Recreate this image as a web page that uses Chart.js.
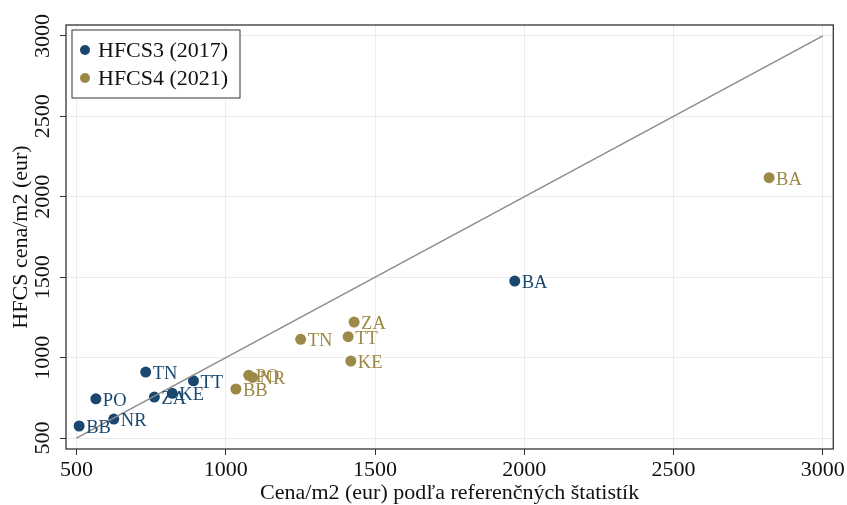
<!DOCTYPE html>
<html>
<head>
<meta charset="utf-8">
<script src="https://cdn.jsdelivr.net/npm/chart.js@4.4.1/dist/chart.umd.min.js"></script>
<style>
  body { margin: 0; background: #fff; }
  #wrap { width: 847px; height: 505px; }
</style>
</head>
<body>
<div id="wrap"><canvas id="chart" width="847" height="505"></canvas></div>
<script>
// regions (labels next to markers)
const labels3 = ['BA', 'TN', 'TT', 'KE', 'ZA', 'PO', 'NR', 'BB']
const refPrice3 = [1968, 732, 892, 821, 761, 565, 625, 509]
const hfcsPrice3 = [1476, 910, 856, 778, 755, 744, 618, 575]

const labels4 = ['BA', 'ZA', 'TT', 'TN', 'KE', 'PO', 'NR', 'BB']
const refPrice4 = [2820, 1430, 1410, 1251, 1419, 1077, 1090, 1034]
const hfcsPrice4 = [2119, 1221, 1130, 1114, 979, 890, 877, 805]

const diagonal = [500, 3000]
const xTicks = [500, 1000, 1500, 2000, 2500, 3000]
const yTicks = [500, 1000, 1500, 2000, 2500, 3000]

const BLUE = '#1a476f'
const GOLD = '#9c8847'
const SERIF = "'Liberation Serif', 'Times New Roman', serif"

const toPoints = (xs, ys) => xs.map((x, i) => ({ x: x, y: ys[i] }))

// text labels to the right of each marker
const markerLabels = {
  id: 'markerLabels',
  afterDatasetsDraw(chart) {
    const ctx = chart.ctx
    ctx.save()
    ctx.font = '18.5px ' + SERIF
    ctx.textAlign = 'left'
    ctx.textBaseline = 'middle'
    chart.data.datasets.forEach((ds, di) => {
      if (!ds.pointLabels) return
      const meta = chart.getDatasetMeta(di)
      ctx.fillStyle = ds.backgroundColor
      meta.data.forEach((pt, i) => {
        ctx.fillText(ds.pointLabels[i], pt.x + 7, pt.y + 2)
      })
    })
    ctx.restore()
  }
}

// frame round plot area + legend box inside it
const frameAndLegend = {
  id: 'frameAndLegend',
  afterDraw(chart) {
    const ctx = chart.ctx
    const a = chart.chartArea
    ctx.save()
    ctx.strokeStyle = '#333'
    ctx.lineWidth = 1.3
    ctx.strokeRect(a.left, a.top, a.right - a.left, a.bottom - a.top)

    const bx = a.left + 6, by = a.top + 5
    ctx.lineWidth = 1
    ctx.fillStyle = '#fff'
    ctx.fillRect(bx, by, 168, 68)
    ctx.strokeRect(bx, by, 168, 68)
    ctx.font = '22px ' + SERIF
    ctx.textBaseline = 'middle'
    const items = chart.data.datasets.filter(d => d.pointLabels)
    items.forEach((ds, i) => {
      const cy = by + 20 + i * 28
      ctx.fillStyle = ds.backgroundColor
      ctx.beginPath()
      ctx.arc(bx + 13, cy, 5, 0, Math.PI * 2)
      ctx.fill()
      ctx.fillStyle = '#111'
      ctx.fillText(ds.label, bx + 26, cy + 1)
    })
    ctx.restore()
  }
}

const plain = v => String(v)

new Chart(document.getElementById('chart').getContext('2d'), {
  type: 'scatter',
  data: {
    datasets: [
      {
        type: 'line',
        label: 'diag',
        data: toPoints(diagonal, diagonal),
        borderColor: '#8c8c8c',
        borderWidth: 1.5,
        pointRadius: 0,
        fill: false
      },
      {
        label: 'HFCS3 (2017)',
        data: toPoints(refPrice3, hfcsPrice3),
        pointLabels: labels3,
        backgroundColor: BLUE,
        borderWidth: 0,
        pointRadius: 5.5
      },
      {
        label: 'HFCS4 (2021)',
        data: toPoints(refPrice4, hfcsPrice4),
        pointLabels: labels4,
        backgroundColor: GOLD,
        borderWidth: 0,
        pointRadius: 5.5
      }
    ]
  },
  options: {
    responsive: false,
    animation: false,
    layout: { padding: { top: 25, right: 11, left: 0, bottom: 0 } },
    plugins: {
      legend: { display: false },
      tooltip: { enabled: false }
    },
    scales: {
      x: {
        type: 'linear',
        min: 465,
        max: 3035,
        afterBuildTicks: s => { s.ticks = xTicks.map(v => ({ value: v })) },
        afterFit: s => { s.height = 56 },
        border: { display: false },
        grid: { color: '#ececec', tickColor: '#333', tickLength: 6 },
        ticks: { font: { family: SERIF, size: 22 }, color: '#111', padding: 2, maxRotation: 0, callback: plain },
        title: {
          display: true,
          text: 'Cena/m2 (eur) podľa referenčných štatistík',
          font: { family: SERIF, size: 22, lineHeight: 1 },
          color: '#111',
          padding: { top: 0, bottom: 1 }
        }
      },
      y: {
        type: 'linear',
        min: 432,
        max: 3068,
        afterBuildTicks: s => { s.ticks = yTicks.map(v => ({ value: v })) },
        afterFit: s => { s.width = 66 },
        border: { display: false },
        grid: { color: '#ececec', tickColor: '#333', tickLength: 6 },
        ticks: {
          font: { family: SERIF, size: 22 },
          color: '#111',
          minRotation: 90,
          maxRotation: 90,
          crossAlign: 'center',
          padding: -5,
          callback: plain
        },
        title: {
          display: true,
          text: 'HFCS cena/m2 (eur)',
          font: { family: SERIF, size: 22, lineHeight: 1 },
          color: '#111',
          padding: { top: 10, bottom: 0 }
        }
      }
    }
  },
  plugins: [markerLabels, frameAndLegend]
})
</script>
</body>
</html>
